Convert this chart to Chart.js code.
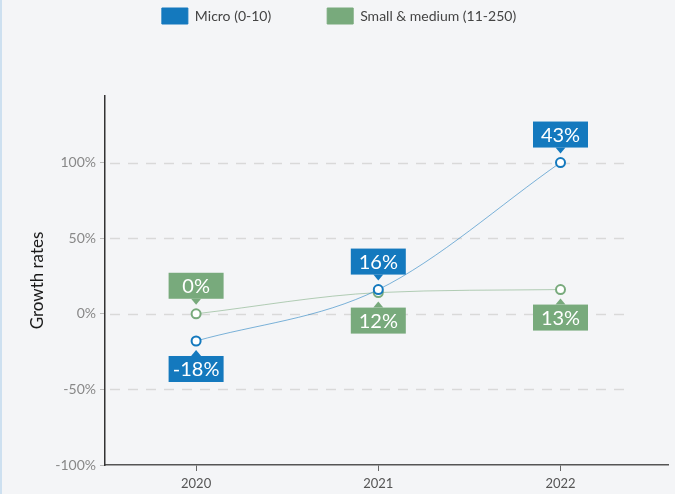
<!DOCTYPE html>
<html>
<head>
<meta charset="utf-8">
<script src="https://cdn.jsdelivr.net/npm/chart.js@4.4.1/dist/chart.umd.min.js"></script>
<style>
  html, body { margin: 0; padding: 0; background: #f4f5f7; }
  #wrap { width: 675px; height: 494px; position: relative; }
</style>
</head>
<body>
<div id="wrap"><canvas id="growthChart" width="675" height="494"></canvas></div>
<script>
// growth rates per company size
var years = [2020, 2021, 2022];
var micro = [-18, 16, 100];
var smallMedium = [0, 14, 16];
var microLabels = ['-18%', '16%', '43%'];
var smallLabels = ['0%', '12%', '13%'];
var microSides = ['below', 'above', 'above'];
var smallSides = ['above', 'below', 'below'];
var yTicks = [-100, -50, 0, 50, 100];

var BLUE = '#1479be';
var GREEN = '#78aa7c';
var FONT = 'Lato, "Open Sans", sans-serif';

function toPoints(values) {
    return years.map(function (yr, i) { return { x: yr, y: values[i] }; });
}

// page background and thin left rule
var backdrop = {
    id: 'backdrop',
    beforeDraw: function (chart) {
        var ctx = chart.ctx;
        ctx.save();
        ctx.fillStyle = '#f4f5f7';
        ctx.fillRect(0, 0, chart.width, chart.height);
        ctx.fillStyle = '#cde0f0';
        ctx.fillRect(0, 0, 2, chart.height);
        ctx.restore();
    }
};

// legend sits at the very top and leaves a gap above the plot
var legendSpace = {
    id: 'legendSpace',
    beforeInit: function (chart) {
        var fit = chart.legend.fit;
        chart.legend.fit = function () {
            fit.bind(chart.legend)();
            this.height = 96;
        };
    },
    afterLayout: function (chart) {
        chart.legend.top = -48;
        chart.legend.left = 10;
    }
};

// dashed horizontal guides
var dashedGrid = {
    id: 'dashedGrid',
    beforeDatasetsDraw: function (chart) {
        var ctx = chart.ctx;
        var ys = chart.scales.y, xs = chart.scales.x;
        var x0 = chart.chartArea.left + 5;
        var x1 = xs.getPixelForValue(2022.37);
        ctx.save();
        ctx.strokeStyle = '#d9d9d9';
        ctx.lineWidth = 1.5;
        ctx.setLineDash([10, 8]);
        [100, 50, 0, -50].forEach(function (v) {
            var y = Math.round(ys.getPixelForValue(v)) + 0.5;
            ctx.beginPath();
            ctx.moveTo(x0, y);
            ctx.lineTo(x1, y);
            ctx.stroke();
        });
        ctx.restore();
    }
};

// value callouts with a small pointer
var callouts = {
    id: 'callouts',
    afterDatasetsDraw: function (chart) {
        var ctx = chart.ctx;
        var texts = [microLabels, smallLabels];
        var sides = [microSides, smallSides];
        var w = 55, h = 26, gap = 15, tip = 6;
        ctx.save();
        chart.data.datasets.forEach(function (ds, i) {
            var meta = chart.getDatasetMeta(i);
            meta.data.forEach(function (pt, j) {
                var above = sides[i][j] === 'above';
                var x = pt.x, y = pt.y;
                var top = above ? y - gap - h : y + gap;
                ctx.fillStyle = ds.borderColor;
                ctx.fillRect(x - w / 2, top, w, h);
                ctx.beginPath();
                if (above) {
                    ctx.moveTo(x - 5, top + h);
                    ctx.lineTo(x + 5, top + h);
                    ctx.lineTo(x, top + h + tip);
                } else {
                    ctx.moveTo(x - 5, top);
                    ctx.lineTo(x + 5, top);
                    ctx.lineTo(x, top - tip);
                }
                ctx.closePath();
                ctx.fill();
                ctx.fillStyle = '#ffffff';
                ctx.font = '20px ' + FONT;
                ctx.textAlign = 'center';
                ctx.textBaseline = 'middle';
                ctx.fillText(texts[i][j], x, top + h / 2 + 1);
            });
        });
        ctx.restore();
    }
};

var ctx = document.getElementById('growthChart').getContext('2d');
var growthChart = new Chart(ctx, {
    type: 'line',
    data: {
        datasets: [
            {
                label: 'Micro (0-10)',
                data: toPoints(micro),
                borderColor: BLUE,
                backgroundColor: BLUE,
                borderWidth: 1,
                cubicInterpolationMode: 'monotone',
                pointRadius: 4.5,
                pointBorderWidth: 2,
                pointBackgroundColor: '#ffffff',
                pointBorderColor: BLUE,
                segment: { borderColor: 'rgba(20,121,190,0.55)' }
            },
            {
                label: 'Small & medium (11-250)',
                data: toPoints(smallMedium),
                borderColor: GREEN,
                backgroundColor: GREEN,
                borderWidth: 1,
                cubicInterpolationMode: 'monotone',
                pointRadius: 4.5,
                pointBorderWidth: 2,
                pointBackgroundColor: '#ffffff',
                pointBorderColor: GREEN,
                segment: { borderColor: 'rgba(120,170,124,0.55)' }
            }
        ]
    },
    options: {
        responsive: false,
        animation: false,
        layout: { padding: { left: 0, right: 7, top: 0, bottom: 0 } },
        plugins: {
            tooltip: { enabled: false },
            legend: {
                position: 'top',
                labels: {
                    boxWidth: 26,
                    boxHeight: 16,
                    padding: 56,
                    color: '#444',
                    font: { family: FONT, size: 14 }
                }
            }
        },
        scales: {
            x: {
                type: 'linear',
                min: 2019.5,
                max: 2022.59,
                afterBuildTicks: function (scale) {
                    scale.ticks = years.map(function (v) { return { value: v }; });
                },
                afterFit: function (scale) { scale.height = 29; },
                ticks: {
                    color: '#555',
                    padding: 5,
                    font: { family: FONT, size: 13 },
                    callback: function (v) { return String(v); }
                },
                grid: { drawOnChartArea: false, drawTicks: true, tickLength: 6, color: '#666' },
                border: { color: '#555', width: 1.5 }
            },
            y: {
                min: -100,
                max: 144,
                afterBuildTicks: function (scale) {
                    scale.ticks = yTicks.map(function (v) { return { value: v }; });
                },
                afterFit: function (scale) { scale.width = 105; },
                ticks: {
                    color: '#888',
                    padding: 4,
                    font: { family: FONT, size: 14 },
                    callback: function (v) { return v + '%'; }
                },
                grid: { drawOnChartArea: false, drawTicks: true, tickLength: 5, color: '#bbb' },
                border: { color: '#333', width: 1.5 },
                title: {
                    display: true,
                    text: 'Growth rates',
                    color: '#1a1a1a',
                    font: { family: FONT, size: 17 },
                    padding: { top: 27, bottom: 0 }
                }
            }
        }
    },
    plugins: [backdrop, legendSpace, dashedGrid, callouts]
});
</script>
</body>
</html>
